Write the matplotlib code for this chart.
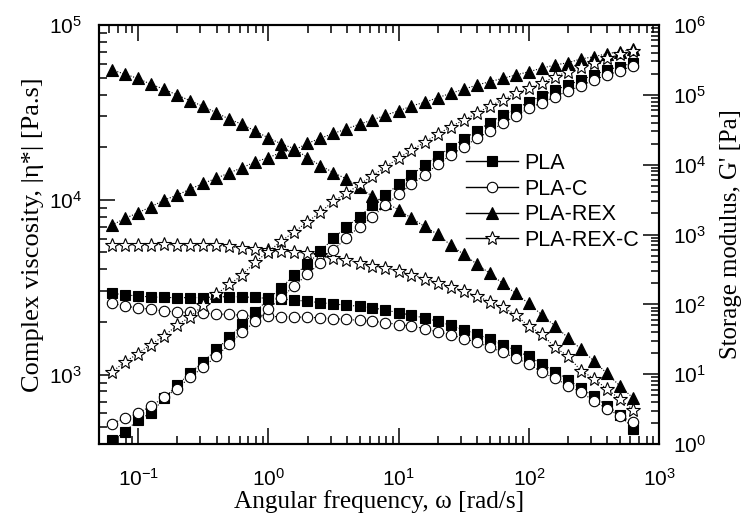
import numpy as np
import matplotlib
matplotlib.use('Agg')
import matplotlib.pyplot as plt
from matplotlib.lines import Line2D
from matplotlib.ticker import LogLocator, NullFormatter

plt.rcParams['font.family'] = 'Liberation Sans'
plt.rcParams['mathtext.default'] = 'regular'

# угловая частота, rad/s
omega = [0.0628, 0.0791, 0.0996, 0.125, 0.158, 0.199, 0.250, 0.315, 0.397, 0.500,
         0.628, 0.791, 0.996, 1.25, 1.58, 1.99, 2.50, 3.15, 3.97, 5.00,
         6.28, 7.91, 9.96, 12.5, 15.8, 19.9, 25.0, 31.5, 39.7, 50.0,
         62.8, 79.1, 99.6, 125, 158, 199, 250, 315, 397, 500, 628]

# комплексная вязкость |eta*|, Pa.s (левая ось)
eta_pla = [2910, 2863, 2808, 2782, 2760, 2753, 2753, 2753, 2782, 2789,
           2782, 2760, 2724, 2698, 2663, 2627, 2576, 2535, 2492, 2459,
           2411, 2333, 2263, 2183, 2107, 2017, 1912, 1802, 1710, 1589,
           1482, 1373, 1269, 1152, 1040, 936, 834, 750, 663, 587, 491]
eta_pla_c = [2559, 2459, 2411, 2357, 2311, 2280, 2265, 2247, 2221, 2206,
             2183, 2168, 2154, 2140, 2134, 2126, 2112, 2090, 2065, 2043,
             2017, 1982, 1930, 1895, 1830, 1750, 1691, 1604, 1533, 1435,
             1343, 1241, 1152, 1031, 952, 865, 791, 709, 635, 581, 532]
eta_rex = [55300, 52300, 49400, 45800, 42900, 39700, 36900, 34200, 31500, 28900,
           27000, 24700, 22600, 20900, 19600, 17400, 15700, 14300, 13150, 11770,
           10450, 9610, 8770, 7850, 7030, 6340, 5510, 4870, 4290, 3790,
           3320, 2910, 2550, 2200, 1900, 1625, 1400, 1195, 1014, 859, 735]
eta_rex_c = [5513, 5513, 5513, 5513, 5550, 5513, 5476, 5476, 5476, 5405,
             5298, 5228, 5159, 5092, 5024, 4940, 4830, 4660, 4520, 4360,
             4193, 4068, 3908, 3730, 3539, 3356, 3176, 2999, 2808, 2610,
             2428, 2198, 1888, 1710, 1430, 1277, 1054, 948, 825, 723, 629]

# модуль накопления G', Pa (правая ось)
g_pla = [1.13, 1.49, 2.24, 2.76, 4.53, 6.95, 10.4, 15.0, 22.6, 33.6,
         52.0, 77.3, 119, 173, 262, 377, 578, 879, 1290, 1794,
         2638, 3668, 5224, 7100, 9870, 13300, 17500, 23300, 30300, 39800,
         51400, 62000, 79700, 96100, 117000, 138000, 163000, 192000, 227000, 254000, 285000]
g_pla_c = [1.97, 2.34, 2.76, 3.50, 4.65, 6.24, 9.06, 12.6, 18.0, 27.1,
           40.0, 56.9, 84.8, 124, 185, 269, 393, 598, 903, 1290,
           1794, 2638, 3753, 5224, 7100, 10100, 13700, 18000, 23800, 30300,
           39000, 50200, 64100, 77000, 93900, 113000, 134000, 163000, 192000, 219000, 261000]
g_rex = [1365, 1700, 2050, 2495, 3110, 3670, 4470, 5400, 6370, 7660,
         9030, 11000, 12560, 15000, 16200, 20200, 23800, 28100, 32400, 38200,
         43500, 51300, 58600, 69200, 78100, 90800, 105000, 120000, 138000, 154000,
         172000, 192000, 214000, 240000, 267000, 288000, 326000, 351000, 388000, 414000, 449000]
g_rex_c = [10.8, 15.0, 19.8, 26.6, 35.4, 50.4, 66.2, 97.5, 139, 193,
           262, 406, 565, 804, 1094, 1520, 2073, 3010, 3880, 5220,
           6930, 9330, 12300, 16200, 20900, 27200, 34900, 43500, 54300, 69200,
           84300, 105000, 124000, 146000, 182000, 214000, 253000, 283000, 333000, 380000, 424000]

labels = ['PLA', 'PLA-C', 'PLA-REX', 'PLA-REX-C']
markers = ['s', 'o', '^', '*']
faces = ['black', 'white', 'black', 'white']
msizes = [7, 7.5, 8, 10]

fig = plt.figure(figsize=(7.56, 5.2), dpi=100)
ax = fig.add_axes([0.131, 0.146, 0.741, 0.806])
ax2 = ax.twinx()

eta_all = [eta_pla, eta_pla_c, eta_rex, eta_rex_c]
g_all = [g_pla, g_pla_c, g_rex, g_rex_c]

# порядок отрисовки: как в легенде
for k in range(4):
    style = dict(marker=markers[k], mfc=faces[k], mec='black', mew=0.8,
                 ms=msizes[k], color='black', ls=(0, (1, 1.5)), lw=0.8)
    ax.plot(omega, eta_all[k], **style)
    ax2.plot(omega, g_all[k], **style)

ax.set_xscale('log')
ax.set_yscale('log')
ax2.set_yscale('log')
ax.set_xlim(0.05, 1000)
ax.set_ylim(400, 1e5)
ax2.set_ylim(1, 1e6)

sub = np.arange(2, 10)
for axis in (ax.xaxis, ax.yaxis, ax2.yaxis):
    axis.set_major_locator(LogLocator(base=10, numticks=20))
    axis.set_minor_locator(LogLocator(base=10, subs=sub, numticks=20))
    axis.set_minor_formatter(NullFormatter())

ax.tick_params(which='both', direction='in', top=True, right=False, width=1.1, labelsize=15)
ax.tick_params(which='major', length=11.5)
ax.tick_params(which='minor', length=5.8)
ax.tick_params(axis='x', pad=17)
ax.tick_params(axis='y', pad=12)
ax2.tick_params(which='both', direction='in', width=1.1, labelsize=15, pad=10)
ax2.tick_params(which='major', length=11.5)
ax2.tick_params(which='minor', length=5.8)

for a in (ax, ax2):
    for s in a.spines.values():
        s.set_linewidth(1.5)

ax.set_xlabel('Angular frequency, ω [rad/s]', family='Liberation Serif', size=18.2, labelpad=0)
ax.set_ylabel('Complex viscosity, |η*| [Pa.s]', family='Liberation Serif', size=19, labelpad=4)
ax2.set_ylabel("Storage modulus, G' [Pa]", family='Liberation Serif', size=17.8, labelpad=10)

handles = [Line2D([], [], color='black', lw=1, marker=markers[k], mfc=faces[k],
                  mec='black', mew=0.8, ms=msizes[k]) for k in range(4)]
leg = ax2.legend(handles, labels, loc='upper left', bbox_to_anchor=(0.655, 0.695),
                 frameon=False, fontsize=15.5, handlelength=2.4, handletextpad=0.3,
                 labelspacing=0.22, borderaxespad=0, borderpad=0)

fig.savefig('out.png', dpi=100)
